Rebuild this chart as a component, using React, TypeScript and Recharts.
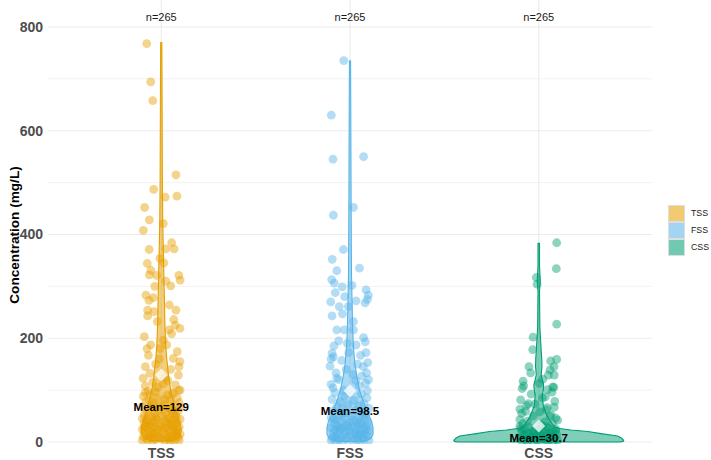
import React from 'react';
import { ComposedChart, Scatter, XAxis, YAxis, CartesianGrid, Legend } from 'recharts';

const categories = ['TSS', 'FSS', 'CSS'];
const colors = ['#E69F00', '#56B4E9', '#009E73'];
const counts = [265, 265, 265];
const means = [129, 98.5, 30.7];
const meanLabelY = [67, 59.5, 7.5];
const countLabelY = 819;
const yTicks = [0, 200, 400, 600, 800];
const yMinorTicks = [100, 300, 500, 700];

// violin outlines: [value, half width in category units], top to bottom
const tssViolin: [number, number][] = [
  [770, 0.003], [700, 0.004], [600, 0.005], [500, 0.006], [420, 0.008], [370, 0.011], [320, 0.014],
  [270, 0.017], [230, 0.019], [190, 0.023], [160, 0.029], [125, 0.04], [100, 0.05], [80, 0.064],
  [60, 0.079], [40, 0.095], [25, 0.106], [12, 0.1], [5, 0.08], [2, 0.055],
];
const fssViolin: [number, number][] = [
  [735, 0.003], [650, 0.004], [550, 0.005], [450, 0.006], [380, 0.007], [320, 0.008], [270, 0.011],
  [216, 0.014], [180, 0.019], [150, 0.026], [125, 0.037], [100, 0.05], [75, 0.074], [56, 0.095],
  [40, 0.114], [28, 0.122], [15, 0.122], [7, 0.111], [3, 0.09], [1, 0.064],
];
const cssViolin: [number, number][] = [
  [383, 0.004], [340, 0.004], [310, 0.008], [290, 0.004], [250, 0.005], [220, 0.006], [195, 0.01],
  [175, 0.013], [160, 0.016], [145, 0.017], [130, 0.013], [120, 0.019], [110, 0.026], [100, 0.024],
  [90, 0.019], [80, 0.021], [70, 0.024], [60, 0.034], [50, 0.045], [42, 0.058], [35, 0.072],
  [29, 0.085], [26, 0.11], [23, 0.17], [20, 0.26], [16, 0.33], [11.5, 0.418], [7, 0.44], [3, 0.45],
  [1, 0.447], [0, 0.43],
];

// jittered observations: [jitter offset, value]
const tssPoints: [number, number][] = [
  [-0.077, 768], [-0.056, 694], [-0.045, 658], [0.078, 515], [-0.04, 487], [0.021, 472], [0.083, 474],
  [-0.088, 452], [-0.063, 428], [0.011, 421], [-0.095, 408], [-0.064, 371], [0.055, 384], [0.068, 372],
  [0.024, 372], [-0.074, 344], [-0.007, 354], [-0.055, 331], [0.014, 345], [-0.063, 322], [-0.024, 321],
  [0.093, 321], [0.1, 312], [0.024, 310], [0.05, 301], [-0.034, 300], [-0.081, 283], [-0.042, 278],
  [-0.065, 273], [0.043, 264], [0.078, 254], [-0.072, 254], [-0.038, 251], [-0.072, 243], [-0.021, 232],
  [0.066, 236], [0.074, 225], [0.099, 219], [0.041, 216], [-0.09, 203], [0.055, 209], [0.011, 196],
  [0.029, 187], [0.085, 174], [-0.056, 187], [-0.075, 180], [-0.006, 180], [-0.068, 167], [0.064, 161],
  [0.099, 155], [-0.084, 145], [0.094, 145], [0.091, 129], [-0.096, 123], [-0.06, 132], [0.02, 124],
  [-0.03, 150], [0.05, 140], [-0.01, 160], [0.075, 110], [-0.085, 108], [-0.045, 115], [0.035, 118],
  [0.092, 100], [-0.07, 98], [0.06, 95], [-0.02, 105], [0.01, 112],
  [-0.095, 88], [-0.06, 92], [0.03, 90], [0.085, 85], [-0.02, 84], [0.05, 80], [-0.08, 78], [0.095, 76],
  [-0.04, 75], [0.015, 72], [0.07, 70], [-0.1, 68], [-0.055, 66], [0.04, 64], [-0.015, 62], [0.09, 60],
  [-0.075, 58], [0.025, 57], [0.06, 55], [-0.035, 54], [-0.09, 52], [0.005, 50], [0.08, 49], [-0.05, 48],
  [0.045, 46], [-0.1, 45], [0.1, 44], [-0.025, 43], [0.065, 42], [-0.07, 41], [0.02, 40], [-0.045, 39],
  [0.085, 38], [-0.09, 37], [0.035, 36], [-0.01, 35], [0.075, 34], [-0.06, 33], [0.05, 32], [-0.085, 31],
  [0.0, 30], [0.095, 29], [-0.035, 28], [0.03, 27], [-0.075, 26], [0.065, 25], [-0.1, 24], [-0.02, 23],
  [0.085, 22], [0.045, 21], [-0.055, 20], [0.01, 19], [-0.09, 18], [0.07, 17], [-0.04, 16], [0.1, 15],
  [-0.065, 14], [0.025, 13], [0.055, 12], [-0.015, 11], [-0.095, 10], [0.09, 9], [-0.05, 8], [0.035, 7],
  [-0.08, 6], [0.0, 6], [0.075, 5], [-0.03, 5], [0.06, 4], [-0.07, 4], [0.02, 3], [-0.1, 3], [0.095, 3],
  [-0.045, 2], [0.045, 2], [-0.085, 95], [0.065, 93], [-0.03, 97], [0.02, 82], [-0.065, 80], [0.1, 66],
  [-0.005, 68], [0.075, 52], [-0.03, 47], [0.03, 44], [-0.08, 43], [0.06, 35], [-0.05, 30], [0.015, 26],
  [0.08, 20], [-0.025, 18], [-0.06, 12], [0.04, 10], [-0.01, 8], [0.085, 12], [-0.09, 28], [0.055, 62],
  [-0.04, 70], [0.1, 100],
];
const fssPoints: [number, number][] = [
  [-0.033, 735], [-0.099, 630], [-0.09, 545], [0.072, 550], [-0.088, 437], [0.018, 452], [-0.035, 371],
  [-0.094, 352], [-0.07, 330], [0.05, 335], [-0.097, 313], [-0.083, 306], [-0.041, 299], [0.01, 302],
  [0.085, 293], [0.097, 283], [-0.078, 288], [0.092, 275], [-0.102, 270], [-0.028, 280], [0.032, 272],
  [0.08, 268], [-0.057, 261], [-0.009, 261], [-0.04, 247], [-0.095, 243], [0.018, 232], [-0.07, 216],
  [-0.03, 216], [0.018, 216], [0.072, 201], [-0.06, 195], [0.081, 193], [-0.014, 190], [0.032, 187],
  [-0.095, 171], [-0.088, 164], [-0.106, 146], [-0.007, 172], [0.085, 172], [0.056, 167], [-0.044, 157],
  [0.094, 153], [-0.074, 133], [0.088, 133], [-0.1, 111], [0.062, 127], [0.083, 113], [0.092, 99],
  [-0.07, 123], [-0.085, 185], [0.04, 150], [-0.02, 140], [0.07, 145], [-0.06, 120], [0.03, 118],
  [-0.09, 104], [0.05, 108], [-0.035, 100], [0.015, 130], [0.098, 120], [-0.1, 160],
  [-0.08, 95], [0.06, 92], [-0.03, 88], [0.09, 85], [-0.095, 82], [0.02, 80], [-0.05, 77], [0.075, 74],
  [-0.01, 72], [0.045, 70], [-0.07, 68], [0.1, 65], [-0.04, 63], [0.03, 61], [-0.09, 60], [0.065, 58],
  [-0.02, 56], [0.085, 54], [-0.06, 52], [0.01, 50], [0.05, 48], [-0.1, 47], [-0.03, 45], [0.08, 43],
  [-0.075, 42], [0.035, 40], [-0.045, 39], [0.095, 38], [0.0, 37], [-0.085, 35], [0.06, 34], [-0.015, 33],
  [0.04, 32], [-0.065, 31], [0.09, 30], [-0.035, 29], [0.015, 28], [-0.1, 27], [0.07, 26], [-0.05, 25],
  [0.03, 24], [-0.08, 23], [0.1, 22], [-0.005, 21], [0.055, 20], [-0.06, 19], [0.025, 18], [-0.09, 17],
  [0.08, 16], [-0.025, 15], [0.045, 14], [-0.07, 13], [0.0, 12], [0.095, 11], [-0.045, 10], [0.065, 9],
  [-0.095, 8], [0.02, 7], [-0.02, 6], [0.075, 5], [-0.06, 4], [0.04, 4], [-0.1, 3], [0.1, 3], [-0.035, 2],
  [0.01, 2], [0.055, 1], [-0.075, 1], [-0.04, 55], [0.07, 50], [-0.085, 44], [0.015, 42], [0.05, 36],
  [-0.055, 27], [0.085, 24], [-0.02, 20], [0.035, 12], [-0.08, 10], [0.06, 15], [-0.01, 30],
];
const cssPoints: [number, number][] = [
  [0.095, 384], [0.093, 334], [-0.013, 317], [-0.009, 304], [0.095, 227], [-0.03, 202], [-0.032, 178],
  [0.095, 159], [0.063, 156], [0.081, 145], [-0.052, 145], [-0.043, 133], [0.06, 139], [0.051, 129],
  [0.082, 129], [0.021, 121], [-0.083, 117], [0.003, 113], [-0.088, 103], [0.074, 106], [0.08, 105],
  [0.047, 101], [0.035, 87], [-0.096, 81], [-0.055, 74], [-0.02, 73], [0.082, 67], [0.045, 66],
  [-0.1, 63], [-0.07, 59], [0.005, 58], [-0.1, 43], [0.06, 49], [0.09, 46], [-0.06, 40], [0.03, 38],
  [0.073, 36], [-0.08, 108], [0.07, 96], [-0.04, 92], [0.02, 85], [0.085, 78], [-0.065, 70], [0.04, 62],
  [-0.09, 55], [0.065, 52], [-0.03, 50], [0.1, 42], [-0.085, 35], [0.015, 33],
  [-0.1, 30], [-0.05, 28], [0.05, 27], [0.09, 25], [-0.075, 24], [0.0, 23], [0.035, 22], [-0.03, 21],
  [0.075, 20], [-0.09, 19], [0.02, 18], [-0.055, 17], [0.06, 16], [-0.015, 15], [0.095, 14], [-0.08, 13],
  [0.04, 12], [-0.04, 11], [0.01, 10], [0.07, 9], [-0.1, 8], [-0.02, 7], [0.085, 6], [0.03, 5],
  [-0.065, 5], [0.055, 4], [-0.035, 3], [0.1, 3], [0.0, 2], [-0.09, 2], [0.045, 1], [-0.06, 1], [0.08, 1],
  [-0.01, 4], [0.02, 6], [-0.045, 8], [0.065, 11], [-0.07, 14], [0.005, 16], [-0.025, 19], [0.09, 21],
  [-0.095, 26], [0.04, 29],
];

const violins = [tssViolin, fssViolin, cssViolin];
const pointSets = [tssPoints, fssPoints, cssPoints];

const violinPolygon = (cat: number, outline: [number, number][]) => {
  const right = [...outline].reverse().map(([v, w]) => ({ x: cat + w, y: v }));
  const left = outline.map(([v, w]) => ({ x: cat - w, y: v }));
  return [...right, ...left];
};

const FONT = '"Liberation Sans", Arial, Helvetica, sans-serif';

const Nothing = () => <g />;

const makeViolinLine = (color: string) => (p: any) => {
  const pts = p.points || [];
  if (!pts.length) return <g />;
  const d = 'M' + pts.map((q: any) => `${q.x},${q.y}`).join('L') + 'Z';
  return <path d={d} fill={color} fillOpacity={0.5} stroke={color} strokeWidth={1.1} strokeLinejoin="round" />;
};

const makeDot = (color: string) => (p: any) => (
  <circle cx={p.cx} cy={p.cy} r={4.4} fill={color} fillOpacity={0.45} />
);

const Diamond = (p: any) => {
  const s = 6.5;
  return (
    <polygon
      points={`${p.cx},${p.cy - s} ${p.cx + s},${p.cy} ${p.cx},${p.cy + s} ${p.cx - s},${p.cy}`}
      fill="#ffffff"
      fillOpacity={0.75}
    />
  );
};

const MeanText = (p: any) => (
  <text x={p.cx} y={p.cy} textAnchor="middle" dominantBaseline="central" fontSize={11.5} fontWeight="bold" fill="#000">
    {p.payload.label}
  </text>
);

const CountText = (p: any) => (
  <text x={p.cx} y={p.cy} textAnchor="middle" dominantBaseline="central" fontSize={11} fill="#1a1a1a">
    {p.payload.label}
  </text>
);

const YTitle = (props: any) => {
  const vb = props.viewBox || { x: 0, y: 0, width: 48, height: 444 };
  const cx = vb.x + 14;
  const cy = vb.y + vb.height / 2 + 13;
  return (
    <text
      x={cx}
      y={cy}
      transform={`rotate(-90 ${cx} ${cy})`}
      textAnchor="middle"
      dominantBaseline="central"
      fontSize={13.6}
      fontWeight="bold"
      fill="#000"
    >
      Concentration (mg/L)
    </text>
  );
};

const LegendBox = () => (
  <div style={{ position: 'relative', width: 43, height: 51, fontFamily: FONT, overflow: 'visible' }}>
    {categories.map((c, i) => (
      <div key={c} style={{ position: 'absolute', left: 16, top: i * 17, height: 17, width: 60, whiteSpace: 'nowrap' }}>
        <div
          style={{
            position: 'absolute',
            left: 0,
            top: 0,
            width: 17,
            height: 17,
            boxSizing: 'border-box',
            border: '1px solid #c4c4c4',
            background: colors[i],
            opacity: 0.55,
          }}
        />
        <span
          style={{
            position: 'absolute',
            left: 23,
            top: 0,
            fontSize: 8.8,
            color: '#1a1a1a',
            lineHeight: '17px',
          }}
        >
          {c}
        </span>
      </div>
    ))}
  </div>
);

export default function App() {
  const cats = categories.map((_, i) => i + 1);
  return (
    <div style={{ position: 'absolute', left: 0, top: 0, width: 711, height: 460, fontFamily: FONT, background: '#fff' }}>
      <ComposedChart width={711} height={460} margin={{ top: 0, right: 16, bottom: 0, left: 0 }}>
        <CartesianGrid horizontalValues={yMinorTicks} vertical={false} stroke="#f2f2f2" strokeWidth={1} />
        <CartesianGrid horizontalValues={yTicks} verticalValues={cats} stroke="#ebebeb" strokeWidth={1.1} />
        <XAxis
          type="number"
          dataKey="x"
          domain={[0.4, 3.6]}
          allowDataOverflow
          ticks={cats}
          tickFormatter={(v: number) => categories[Math.round(v) - 1] || ''}
          axisLine={false}
          tickLine={false}
          tickSize={0}
          tickMargin={4}
          height={16}
          interval={0}
          tick={{ fontSize: 14, fontWeight: 'bold', fill: '#4d4d4d' }}
        />
        <YAxis
          type="number"
          dataKey="y"
          domain={[-4, 852]}
          allowDataOverflow
          ticks={yTicks}
          axisLine={false}
          tickLine={false}
          tickSize={0}
          tickMargin={5}
          width={48}
          interval={0}
          tick={{ fontSize: 14, fontWeight: 'bold', fill: '#4d4d4d' }}
          label={<YTitle />}
        />
        <Legend layout="vertical" align="right" verticalAlign="middle" content={() => <LegendBox />} />
        {violins.map((v, i) => (
          <Scatter
            key={'v' + i}
            data={violinPolygon(i + 1, v)}
            shape={Nothing}
            line={makeViolinLine(colors[i])}
            lineType="joint"
            isAnimationActive={false}
            legendType="none"
          />
        ))}
        {pointSets.map((pts, i) => (
          <Scatter
            key={'p' + i}
            data={pts.map(([dx, v]) => ({ x: i + 1 + dx, y: v }))}
            shape={makeDot(colors[i])}
            isAnimationActive={false}
            legendType="none"
          />
        ))}
        <Scatter
          data={means.map((m, i) => ({ x: i + 1, y: m }))}
          shape={Diamond}
          isAnimationActive={false}
          legendType="none"
        />
        <Scatter
          data={means.map((m, i) => ({ x: i + 1, y: meanLabelY[i], label: `Mean=${m}` }))}
          shape={MeanText}
          isAnimationActive={false}
          legendType="none"
        />
        <Scatter
          data={counts.map((n, i) => ({ x: i + 1, y: countLabelY, label: `n=${n}` }))}
          shape={CountText}
          isAnimationActive={false}
          legendType="none"
        />
      </ComposedChart>
    </div>
  );
}
